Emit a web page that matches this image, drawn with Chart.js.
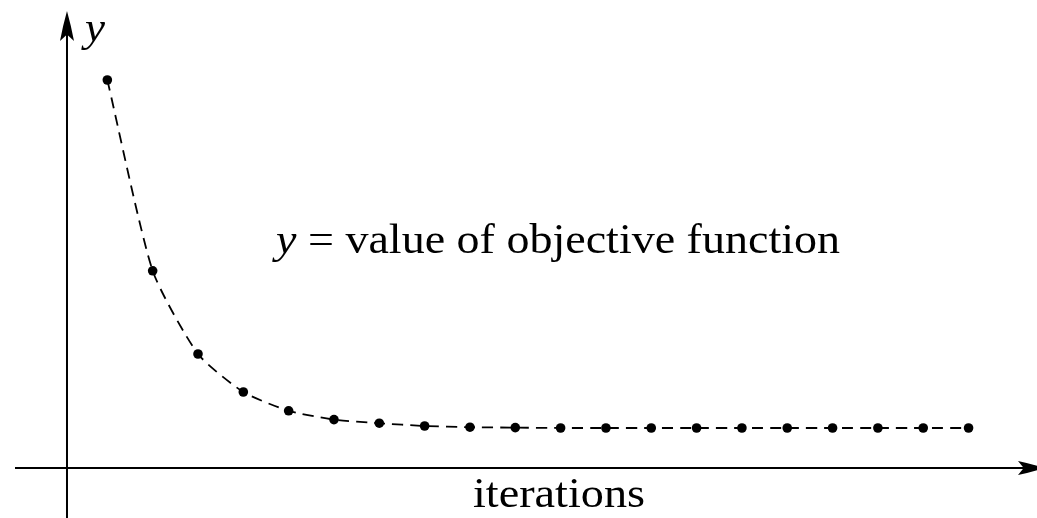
<!DOCTYPE html>
<html>
<head>
<meta charset="utf-8">
<script src="https://cdn.jsdelivr.net/npm/chart.js@4.4.1/dist/chart.umd.min.js"></script>
<style>
  html, body { margin: 0; padding: 0; background: #fff; }
  #holder { width: 1037px; height: 518px; position: relative; }
</style>
</head>
<body>
<div id="holder"><canvas id="chart"></canvas></div>
<script>
// iterations and objective value
const iterations = [1, 2, 3, 4, 5, 6, 7, 8, 9, 10, 11, 12, 13, 14, 15, 16, 17, 18, 19, 20];
const objective = [9.7, 4.93, 2.85, 1.9, 1.43, 1.21, 1.12, 1.05, 1.02, 1.01, 1.0, 1.0, 1.0, 1.0, 1.0, 1.0, 1.0, 1.0, 1.0, 1.0];

const xLabel = 'iterations';
const yLabel = 'y';
const noteText = ' = value of objective function';

const serif = '"Liberation Serif", "DejaVu Serif", serif';

function arrowHead(ctx, x, y, angle, len, half){
    ctx.save();
    ctx.translate(x, y);
    ctx.rotate(angle);
    ctx.beginPath();
    ctx.moveTo(0, 0);
    ctx.quadraticCurveTo(-len * 0.5, -half * 0.6, -len, -half);
    ctx.lineTo(-len * 0.78, 0);
    ctx.lineTo(-len, half);
    ctx.quadraticCurveTo(-len * 0.5, half * 0.6, 0, 0);
    ctx.closePath();
    ctx.fill();
    ctx.restore();
}

// draw text stretched so it spans the wanted width (Computer Modern is wider than Times)
function fitText(ctx, parts, x, baseline, width){
    let total = 0;
    parts.forEach(p => { ctx.font = p.font; total += ctx.measureText(p.text).width; });
    ctx.save();
    ctx.translate(x, baseline);
    ctx.scale(width / total, 1);
    let cx = 0;
    parts.forEach(p => {
        ctx.font = p.font;
        ctx.fillText(p.text, cx, 0);
        cx += ctx.measureText(p.text).width;
    });
    ctx.restore();
}

const axesPlugin = {
    id: 'axesPlugin',
    beforeDatasetsDraw(chart){
        const ctx = chart.ctx;
        const xs = chart.scales.x, ys = chart.scales.y;
        const x0 = xs.getPixelForValue(0.11);
        const y0 = ys.getPixelForValue(0);
        ctx.save();
        ctx.strokeStyle = '#000';
        ctx.fillStyle = '#000';
        ctx.lineWidth = 2;
        // x axis
        ctx.beginPath();
        ctx.moveTo(15, y0);
        ctx.lineTo(1030, y0);
        ctx.stroke();
        arrowHead(ctx, 1044, y0, 0, 26, 7);
        // y axis
        ctx.beginPath();
        ctx.moveTo(x0, 518);
        ctx.lineTo(x0, 25);
        ctx.stroke();
        arrowHead(ctx, x0, 11, -Math.PI / 2, 30, 7);
        ctx.restore();
    },
    afterDraw(chart){
        const ctx = chart.ctx;
        ctx.save();
        ctx.fillStyle = '#000';
        ctx.textBaseline = 'alphabetic';
        fitText(ctx, [{ text: yLabel, font: 'italic 42px ' + serif }], 85, 41, 20);
        fitText(ctx, [
            { text: yLabel, font: 'italic 42px ' + serif },
            { text: noteText, font: '42px ' + serif }
        ], 276, 253, 564);
        fitText(ctx, [{ text: xLabel, font: '42px ' + serif }], 473, 507, 172);
        ctx.restore();
    }
};

new Chart(document.getElementById('chart'), {
    type: 'line',
    data: {
        datasets: [{
            data: iterations.map((it, i) => ({ x: it, y: objective[i] })),
            borderColor: '#000',
            backgroundColor: '#000',
            borderWidth: 1.8,
            borderDash: [11, 7],
            tension: 0.2,
            pointRadius: 4.8,
            pointBorderWidth: 0,
            pointBackgroundColor: '#000'
        }]
    },
    options: {
        responsive: true,
        maintainAspectRatio: false,
        animation: false,
        layout: { padding: 0, autoPadding: false },
        plugins: { legend: { display: false }, tooltip: { enabled: false } },
        scales: {
            x: { type: 'linear', min: -1.368, max: 21.51, display: false },
            y: { type: 'linear', min: -1.25, max: 11.7, display: false }
        }
    },
    plugins: [axesPlugin]
});
</script>
</body>
</html>
